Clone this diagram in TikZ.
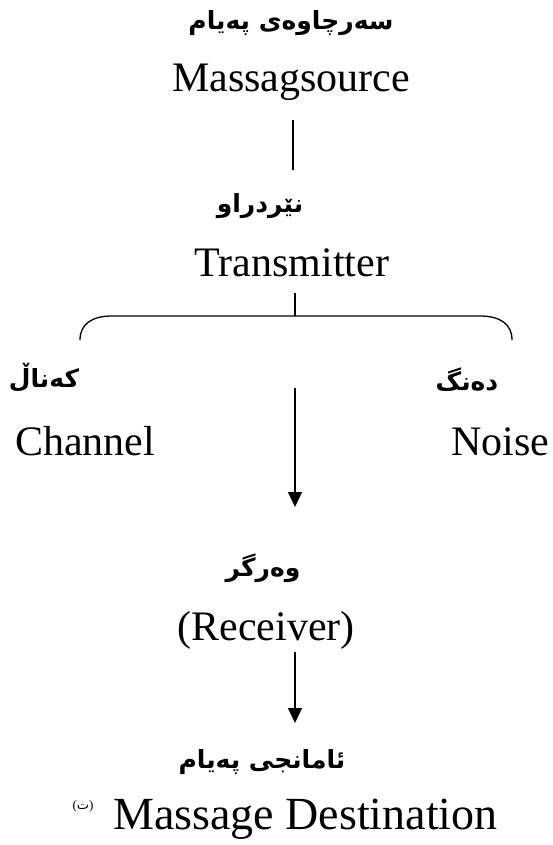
\documentclass[tikz,border=0pt]{standalone}
\usepackage{fontspec}
\setmainfont{Liberation Serif}
\newfontfamily\arabicfont[Script=Arabic]{DejaVu Sans}
\TeXXeTstate=1
\usetikzlibrary{arrows.meta}
\begin{document}
\begin{tikzpicture}[x=1pt,y=-1pt,
  lat/.style={font=\fontsize{42}{48}\selectfont, inner sep=0pt, anchor=base},
  ar/.style={font=\arabicfont\bfseries\fontsize{25}{29}\selectfont, inner sep=0pt},
  conn/.style={line width=1.3pt},
  arr/.style={conn,-{Triangle[length=15pt,width=14pt]}}]
\useasboundingbox (0,0) rectangle (552,845);
% texts
\node[ar] (ar1) at (291,23) {\beginR سەرچاوەی پەیام\endR};
\node[lat] (src) at (291,92) {Massagsource};
\node[ar] (ar2) at (260,206) {\beginR نێردراو\endR};
\node[lat] (tx) at (292,276) {Transmitter};
\node[ar] (ar3) at (44,378) {\beginR کەناڵ\endR};
\node[lat] (ch) at (85,455) {Channel};
\node[ar] (ar4) at (467,380) {\beginR دەنگ\endR};
\node[lat] (no) at (500,455) {Noise};
\node[ar] (ar5) at (263,568) {\beginR وەرگر\endR};
\node[lat] (rc) at (266,640) {(Receiver)};
\node[ar] (ar6) at (262,762) {\beginR ئامانجی پەیام\endR};
\node[font=\fontsize{13}{15}\selectfont, inner sep=0pt] (ta) at (83,806) {({\arabicfont\beginR ت\endR})};
\node[lat, anchor=base west, font=\fontsize{46}{52}\selectfont] (ds) at (113,829) {Massage Destination};
% connectors
\coordinate (l1a) at (293,120);
\coordinate (l1b) at (293,170);
\draw[conn] (l1a) -- (l1b);
\coordinate (st) at (295,293);
\coordinate (bt) at (295,316);
\draw[conn] (st) -- (bt);
\coordinate (bl) at (80,340);
\coordinate (br) at (512,340);
\draw[conn] (bl) .. controls (80,324) and (92,316) .. (112,316) -- (bt) -- (480,316) .. controls (500,316) and (512,324) .. (br);
\coordinate (a1s) at (295,388);
\coordinate (a1e) at (295,507);
\draw[arr] (a1s) -- (a1e);
\coordinate (a2s) at (295,652);
\coordinate (a2e) at (295,723);
\draw[arr] (a2s) -- (a2e);
\end{tikzpicture}
\end{document}
